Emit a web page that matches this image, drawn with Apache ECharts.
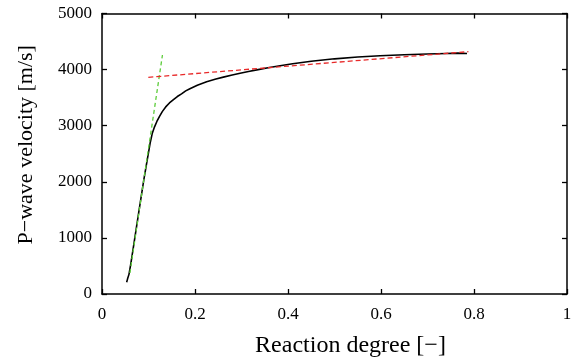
<!DOCTYPE html>
<html><head><meta charset="utf-8">
<script src="https://cdn.jsdelivr.net/npm/echarts@6/dist/echarts.min.js"></script>
<style>html,body{margin:0;padding:0;background:#fff}#c{width:576px;height:359px}</style>
</head><body><div id="c"></div>
<script>
const curveX = [0.053,0.055,0.058,0.062,0.070,0.080,0.090,0.096,0.100,0.104,0.108,0.113,0.118,0.124,0.130,0.137,0.145,0.153,0.162,0.171,0.180,0.189,0.205,0.225,0.245,0.261,0.280,0.297,0.315,0.333,0.360,0.383,0.410,0.45,0.50,0.55,0.598,0.65,0.70,0.741,0.765,0.785];
const curveY = [210,270,350,540,970,1510,2040,2330,2520,2710,2860,2980,3075,3170,3255,3335,3405,3460,3520,3568,3620,3660,3722,3785,3833,3866,3903,3934,3965,3995,4037,4070,4105,4148,4192,4224,4246,4264,4278,4288,4294,4286];
const greenX = [0.060,0.130];
const greenY = [374,4260];
const redX = [0.0996,0.788];
const redY = [3862,4320];
const xTicks = [0,0.2,0.4,0.6,0.8,1];
const yTicks = [0,1000,2000,3000,4000,5000];

const zip = (a,b)=>a.map((v,i)=>[v,b[i]]);
const font = 'Liberation Serif';
const axisLineStyle = {color:'#000',width:1.5};
const tick = {show:true,inside:true,length:5,lineStyle:{color:'#000',width:1.3}};
const chart = echarts.init(document.getElementById('c'),null,{renderer:'canvas'});
chart.setOption({
  animation:false,
  grid:{left:102,right:9,top:13.5,bottom:65,containLabel:false,outerBoundsMode:'none'},
  xAxis:[{type:'value',min:xTicks[0],max:xTicks[xTicks.length-1],interval:0.2,
    name:'Reaction degree [\u2212]',nameLocation:'middle',nameGap:40,
    nameTextStyle:{fontFamily:font,fontSize:24,color:'#000',padding:[0,0,0,32]},
    axisLine:{onZero:false,lineStyle:axisLineStyle},
    axisTick:tick,
    axisLabel:{fontFamily:font,fontSize:17,color:'#000',margin:12,formatter:v=>String(v)},
    splitLine:{show:false}},
   {type:'value',position:'top',min:0,max:1,interval:0.2,
    axisLine:{show:true,onZero:false,lineStyle:axisLineStyle},
    axisTick:tick,
    axisLabel:{show:false},splitLine:{show:false}}],
  yAxis:[{type:'value',min:yTicks[0],max:yTicks[yTicks.length-1],interval:1000,
    name:'P\u2212wave velocity [m/s]',nameLocation:'middle',nameGap:65,
    nameTextStyle:{fontFamily:font,fontSize:22,color:'#000',padding:[0,0,0,18]},
    axisLine:{show:true,onZero:false,lineStyle:axisLineStyle},
    axisTick:tick,
    axisLabel:{fontFamily:font,fontSize:17,color:'#000',margin:10,formatter:v=>String(v)},
    splitLine:{show:false}},
   {type:'value',position:'right',min:0,max:5000,interval:1000,
    axisLine:{show:true,onZero:false,lineStyle:axisLineStyle},
    axisTick:tick,
    axisLabel:{show:false},splitLine:{show:false}}],
  series:[
    {type:'line',data:zip(curveX,curveY),smooth:false,showSymbol:false,
     lineStyle:{color:'#000',width:1.6,join:'round'},z:2},
    {type:'line',data:zip(greenX,greenY),showSymbol:false,
     lineStyle:{color:'#5ccc3a',width:1.3,type:[4,3]},z:3},
    {type:'line',data:zip(redX,redY),showSymbol:false,
     lineStyle:{color:'#e82a2a',width:1.3,type:[5,3]},z:3}
  ]
});
</script></body></html>
